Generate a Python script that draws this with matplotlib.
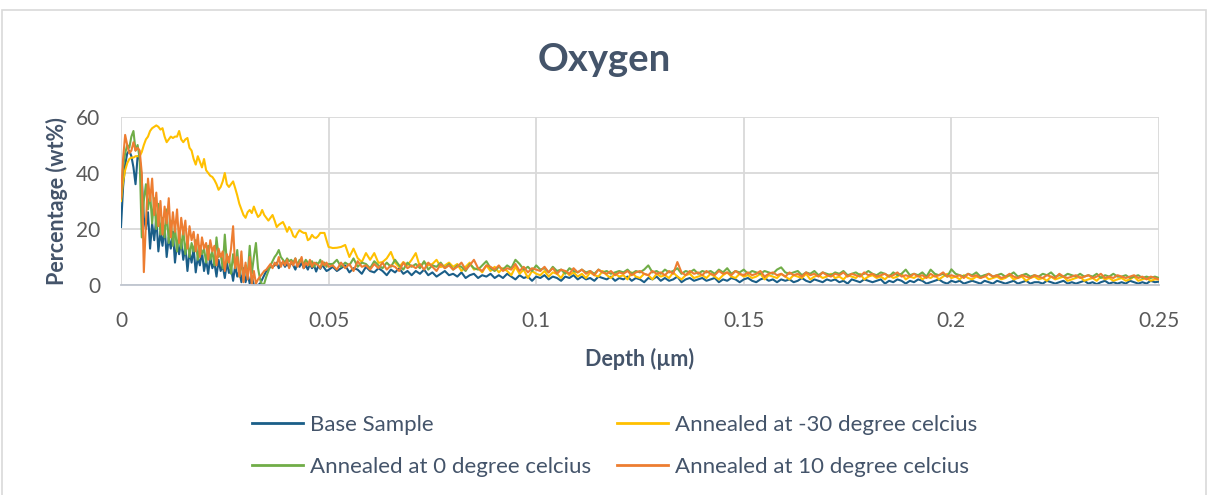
import numpy as np
import matplotlib
matplotlib.use("Agg")
import matplotlib.pyplot as plt
from matplotlib.patches import Rectangle

plt.rcParams['font.family'] = ['Lato', 'DejaVu Sans']

# ---------------- data ----------------
title = "Oxygen"
x_label = "Depth (µm)"
y_label = "Percentage (wt%)"
series_names = ["Base Sample", "Annealed at -30 degree celcius",
                "Annealed at 0 degree celcius", "Annealed at 10 degree celcius"]
x_ticks = [0, 0.05, 0.1, 0.15, 0.2, 0.25]
x_tick_labels = ["0", "0.05", "0.1", "0.15", "0.2", "0.25"]
y_ticks = [0, 20, 40, 60]

# sampling grid: 0-0.05 every 0.0005, 0.051-0.25 every 0.001
depth_early = np.round(np.arange(101) * 0.0005, 4)
depth_tail = np.round(0.051 + np.arange(200) * 0.001, 4)

base_early = [20.7, 35, 43, 47, 48, 46, 42, 36, 46, 45,
              38, 24, 20, 26, 13, 22, 16, 24, 12, 19,
              14, 21, 10, 17, 13, 19, 8, 15, 11, 16,
              9, 14, 5, 12, 8, 13, 4.5, 10, 7, 12,
              5, 9, 4, 10, 6, 8, 3, 9, 5, 7,
              2.5, 8, 4.3, 6, 1.5, 7, 3, 5, 1, 6,
              1, 4, 0.5, 3, 0, 0, 0, 0.5, 2, 3.5,
              5, 6, 6.4, 6.5, 7, 8, 6, 7.5, 8, 6.5,
              7.5, 6.5, 8, 7, 5.5, 7.8, 6.5, 8, 6, 7,
              5.5, 7.5, 6, 7, 4.8, 6.8, 5.8, 7.2, 6, 5,
              5.4]
base_tail = [6.5, 5, 6, 7, 4.5, 6, 5.5, 4, 6.5, 5,
             4.5, 6, 5, 3.5, 5.5, 4.5, 6, 4, 5, 3.5,
             5, 4, 5.5, 3.5, 4.5, 3, 4, 5, 3.5, 4,
             3, 4.5, 2.5, 3.5, 4, 2.5, 3.5, 3, 4, 2.5,
             3.5, 2.5, 4, 3, 2, 3.5, 2.5, 3, 1.5, 3,
             2.5, 3.5, 2, 3, 2.5, 1.5, 3, 2.5, 3.5, 2,
             3, 2, 2.5, 1.5, 3, 2.5, 2, 3, 1.5, 2.5,
             2, 3, 1.5, 2.5, 2, 1, 2.5, 2, 3, 1.5,
             2.5, 1.5, 2, 3, 1, 2, 2.5, 1.5, 2, 2.5,
             1.5, 2, 2.5, 1, 2, 1.5, 2.5, 2, 1, 2,
             2.5, 1.5, 1, 2, 2.5, 1.5, 2, 1, 2, 1.5,
             2, 1, 1.5, 2.5, 1.5, 1, 2, 1.5, 1, 2,
             1.5, 2, 1, 1.5, 0.5, 2, 1.5, 1, 2, 1.5,
             1, 1.5, 2, 0.5, 1.5, 1, 2, 1.5, 0.5, 1.5,
             1, 2, 1.5, 0.5, 1, 1.5, 2, 1, 0.5, 1.5,
             1, 1.5, 0.5, 1, 1.5, 1, 0.5, 1.5, 1, 0.5,
             1.5, 1, 0.5, 1, 1.5, 0.5, 1, 1.5, 0.5, 1,
             1, 0.5, 1.5, 1, 0.5, 1, 1.5, 0.5, 1, 0.5,
             1, 1.5, 0.5, 1, 0.3, 1, 1.5, 0.5, 1, 0.5,
             1, 0.5, 1.5, 1, 0.5, 1, 0.5, 1.5, 1, 1.2]

m30_early = [30, 37, 41, 43.5, 45, 45.5, 45.5, 46, 46, 46,
             47.5, 50, 52, 53, 55, 56, 56.5, 57, 56.5, 55.5,
             56, 53, 51, 52, 53, 52.5, 53, 53, 55, 52,
             51, 52, 52.5, 49, 48, 45, 43, 46, 44, 42,
             45, 41, 40, 39, 38.6, 37.5, 36, 34, 35, 37,
             40, 36, 35, 36, 37, 34.6, 32, 29, 27, 25,
             24, 26, 26.8, 25.7, 28, 26, 24.3, 25, 26.8, 25,
             24, 23, 24, 25, 23, 20.7, 21.5, 22, 22.5, 21,
             19, 20.7, 19.5, 17.5, 17, 18.5, 19.6, 19, 18.6, 18.6,
             16, 16.5, 17.9, 17, 16.8, 17.5, 18.6, 18.6, 18.6, 16,
             13.6]
m30_tail = [13.2, 13.3, 13.6, 14.3, 10, 13, 9.6, 8.2, 11.4, 9,
            11.4, 7.9, 8.2, 9.5, 11.8, 8, 6.4, 8.2, 7, 9,
            11.4, 6.4, 8.2, 7, 7.5, 9, 6.4, 7, 8, 6.5,
            7.5, 5, 6.5, 8, 5.5, 6, 4.5, 7, 5, 6.5,
            4.5, 6, 5, 3.5, 6.5, 4, 5.5, 2.5, 5, 4,
            3.5, 5, 3, 4.5, 4, 2.5, 5, 3.5, 4.5, 3,
            4, 2.5, 4.5, 3.5, 3, 5, 3.5, 2.5, 4, 3,
            3.5, 2, 4.5, 3, 2.5, 4, 3.5, 2, 4, 3,
            3.5, 2.5, 4.5, 3, 2, 3.5, 4, 2.5, 3, 3.5,
            2.5, 4, 3, 2, 3.5, 4.5, 3, 2.5, 4, 3,
            3.5, 2.5, 3, 4, 2, 3.5, 3, 2.5, 4, 3,
            2, 3.5, 3, 2.5, 4, 2, 3, 3.5, 2.5, 3,
            4, 2.5, 3, 2, 3.5, 3, 2.5, 4, 2, 3,
            3.5, 2.5, 3, 2, 3.5, 2.5, 3, 4, 2, 3,
            2.5, 3.5, 2, 3, 2.5, 3.5, 2, 3, 4, 2.5,
            3, 2, 3.5, 2.5, 2, 3, 2.5, 3.5, 2, 2.5,
            3, 2, 2.5, 3.5, 2, 2.5, 3, 1.5, 2.5, 3,
            2, 2.5, 1.5, 3, 2, 2.5, 3, 1.5, 2, 2.5,
            3, 1.5, 2, 2.5, 1.5, 3, 2, 2.5, 1.5, 2,
            2.5, 1.5, 2, 3, 1.5, 2, 2.5, 1.5, 2, 2]

c0_early = [31, 42, 47, 50, 49, 53, 55, 48, 50, 45,
            17, 30, 36, 27, 33, 22, 31, 20, 29, 18,
            24, 17, 27, 15, 23, 14, 21, 12, 19, 13,
            20, 11, 17, 10, 15, 12, 16, 9, 14, 11,
            13, 8, 14, 9, 12, 7, 17, 10, 11, 6,
            18, 8, 10, 4, 11, 6, 12.5, 3, 9, 2,
            7, 3, 14, 4, 10, 15, 6, 2, 0, 0.5,
            3, 5, 7, 8.5, 10, 11, 12.5, 10, 9, 8,
            9.5, 8.5, 9, 8, 9.5, 7, 9, 8.5, 7.5, 9,
            8, 7, 8.5, 6.5, 8, 7.5, 9, 7, 8, 6.5,
            7.5]
c0_tail = [7.5, 9, 6.5, 8, 7, 9.5, 6.5, 8, 7.5, 6,
           8.5, 7, 6, 8, 6.5, 9, 7, 5.5, 8, 6.5,
           7.5, 6, 8.5, 5.5, 7, 6.5, 8, 6, 7.5, 5.5,
           7, 6.5, 5, 7.5, 6, 5.5, 7, 8.5, 6, 5,
           6.5, 5.5, 7, 6, 9, 7.5, 5.5, 6.5, 5, 7,
           5.5, 6, 4.5, 6.5, 5, 5.5, 4, 6, 5, 4.5,
           5.5, 4.5, 5, 4, 5.5, 4.5, 5, 4, 4.5, 5,
           4.5, 5.5, 4, 5, 4.5, 5.5, 7, 4.5, 5, 4,
           5.5, 4.5, 5, 6, 4, 5, 4.5, 5.5, 4, 5,
           4.5, 5, 4, 5.5, 4.5, 6, 4, 5, 4.5, 5.5,
           4, 5, 4.5, 4, 5, 4.5, 4, 5.5, 6.3, 4.5,
           4, 4.5, 5, 3.5, 4.5, 4, 5, 3.5, 4.5, 4,
           3.5, 4.5, 4, 5, 3.5, 4, 4.5, 3.5, 4, 5,
           4, 3.5, 4.5, 4, 3, 4.5, 3.5, 4, 5.5, 3.5,
           4, 3.5, 4.5, 3, 5.5, 4, 3.5, 4, 3, 5.6,
           4, 3.5, 3, 4, 3.5, 4.5, 3, 3.5, 4, 3,
           3.5, 4, 3, 3.5, 4.5, 3, 3.5, 4, 3, 3.5,
           3, 4, 3.5, 4.5, 3, 3.5, 3, 4, 3.5, 3,
           4, 3, 3.5, 3, 4, 2.5, 3.5, 3, 4, 3,
           3, 3.5, 2.5, 3, 3.5, 2.5, 3, 2.5, 3, 2.5]

c10_early = [31, 45, 53.6, 50, 47, 48, 51, 48, 49, 48,
             40, 4.6, 22, 38, 30, 38, 25, 33, 21, 30,
             18, 28, 22, 31, 17, 26, 19, 27, 15, 24,
             18, 23, 13, 21, 16, 19, 12, 18, 10, 17,
             13, 15, 9, 16, 12, 14, 7, 13, 10, 12,
             5, 11, 8, 13, 21, 6, 10, 3, 12, 1,
             8, 2, 10, 0, 5, 0.5, 2, 3, 4, 5,
             5.5, 6.5, 7.5, 6, 8, 7, 10, 6.5, 8.5, 7,
             9, 6, 8.5, 7, 9.5, 6.5, 8, 10, 6, 8,
             7, 9, 6.5, 8, 7.5, 7, 6, 8.5, 7, 8,
             6.5]
c10_tail = [7, 5.5, 8, 6, 7.5, 5, 8.5, 6.5, 7, 5.5,
            7.5, 6, 8, 5.5, 7, 6.5, 5, 8, 6, 7,
            6, 7.5, 5.5, 8, 6.5, 5, 7.5, 6, 7, 5.5,
            6.5, 8, 5.5, 7, 9, 6, 5, 7, 6.5, 5.5,
            7, 5, 6, 5.5, 7.5, 5, 6.5, 4.5, 6, 5.5,
            5, 6.5, 4.5, 6, 4, 5.5, 5, 4, 6, 4.5,
            5.5, 4, 5, 3.5, 5.5, 4.5, 4, 5, 3.5, 4.5,
            4, 5, 3.5, 4.5, 5, 4, 3.5, 5, 4, 4.5,
            3.5, 5, 4, 8.2, 4.5, 3.5, 5, 4, 4.5, 3.5,
            5, 4, 3.5, 5, 4, 4.5, 3.5, 5, 4, 3.5,
            4.5, 3.5, 4, 5, 3, 4, 4.5, 3.5, 4, 3,
            4.5, 3.5, 4, 3, 4.5, 3.5, 4, 3, 4.5, 3.5,
            3, 4, 3.5, 4.5, 3, 4, 3.5, 3, 4.5, 3.5,
            4, 3, 3.5, 4, 3, 3.5, 4.5, 3, 3.5, 3,
            4, 3, 3.5, 2.5, 4, 3, 3.5, 4.5, 3, 3.5,
            3, 3.5, 2.5, 4, 3, 3.5, 2.5, 3, 4, 3,
            3.5, 2.5, 3, 4, 3, 2.5, 3.5, 3, 2.5, 3.5,
            3, 2.5, 3.5, 3, 2.5, 4, 3, 2.5, 3, 3.5,
            2.5, 3, 3.5, 2.5, 3, 4, 2.5, 3, 2.5, 3.5,
            3, 2.5, 3, 3.5, 2.5, 3, 2, 3, 2.5, 2]

# ---------------- styling ----------------
colors = ["#1A5E88", "#FFC000", "#70AD47", "#ED7D31"]
text_dark = "#44546A"
tick_gray = "#595959"
grid_gray = "#D9D9D9"

depth = np.concatenate([depth_early, depth_tail])
series = [base_early + base_tail, m30_early + m30_tail,
          c0_early + c0_tail, c10_early + c10_tail]

fig = plt.figure(figsize=(12.08, 4.95), dpi=100)
fig.patches.append(Rectangle((2 / 1208, -0.01), 1204 / 1208, 1 - 10 / 495 + 0.01,
                             transform=fig.transFigure, fill=False,
                             edgecolor=grid_gray, linewidth=1.2, zorder=0))

ax = fig.add_axes([121 / 1208, 1 - 285 / 495, (1159 - 121) / 1208, (285 - 117) / 495])
lines = []
for name, vals, col in zip(series_names, series, colors):
    ln, = ax.plot(depth, vals, color=col, linewidth=1.5, label=name,
                  solid_joinstyle='round')
    lines.append(ln)

ax.set_xlim(0, 0.25)
ax.set_ylim(0, 60)
ax.set_xticks(x_ticks)
ax.set_xticklabels(x_tick_labels)
ax.set_yticks(y_ticks)
ax.grid(True, color=grid_gray, linewidth=1.3)
ax.set_axisbelow(True)
for s in ["top", "right", "left"]:
    ax.spines[s].set_visible(False)
ax.spines["bottom"].set_color("#BFC5CF")
ax.spines["bottom"].set_linewidth(1.3)
ax.tick_params(axis='both', length=0, labelsize=15, labelcolor=tick_gray)
ax.tick_params(axis='x', pad=19)
ax.tick_params(axis='y', pad=15)

ax.set_xlabel(x_label, fontsize=15.5, fontweight='bold', color=text_dark, labelpad=12)
ax.set_ylabel(y_label, fontsize=15.5, fontweight='bold', color=text_dark, labelpad=6)

fig.text(0.5, 1 - 60 / 495, title, ha='center', va='center', fontsize=27.5,
         fontweight='bold', color=text_dark)

# legend filled row by row: (Base, -30) then (0, 10)
order = [0, 2, 1, 3]
leg = fig.legend([lines[i] for i in order], [series_names[i] for i in order],
                 loc='upper left', bbox_to_anchor=(252 / 1208, 1 - 415 / 495), ncol=2,
                 frameon=False, fontsize=16, borderpad=0, borderaxespad=0,
                 handlelength=2.3, handletextpad=0.32,
                 columnspacing=1.15, labelspacing=1.0)
for t in leg.get_texts():
    t.set_color(text_dark)
for h in leg.get_lines():
    h.set_linewidth(2)

fig.savefig("out.png", dpi=100)
